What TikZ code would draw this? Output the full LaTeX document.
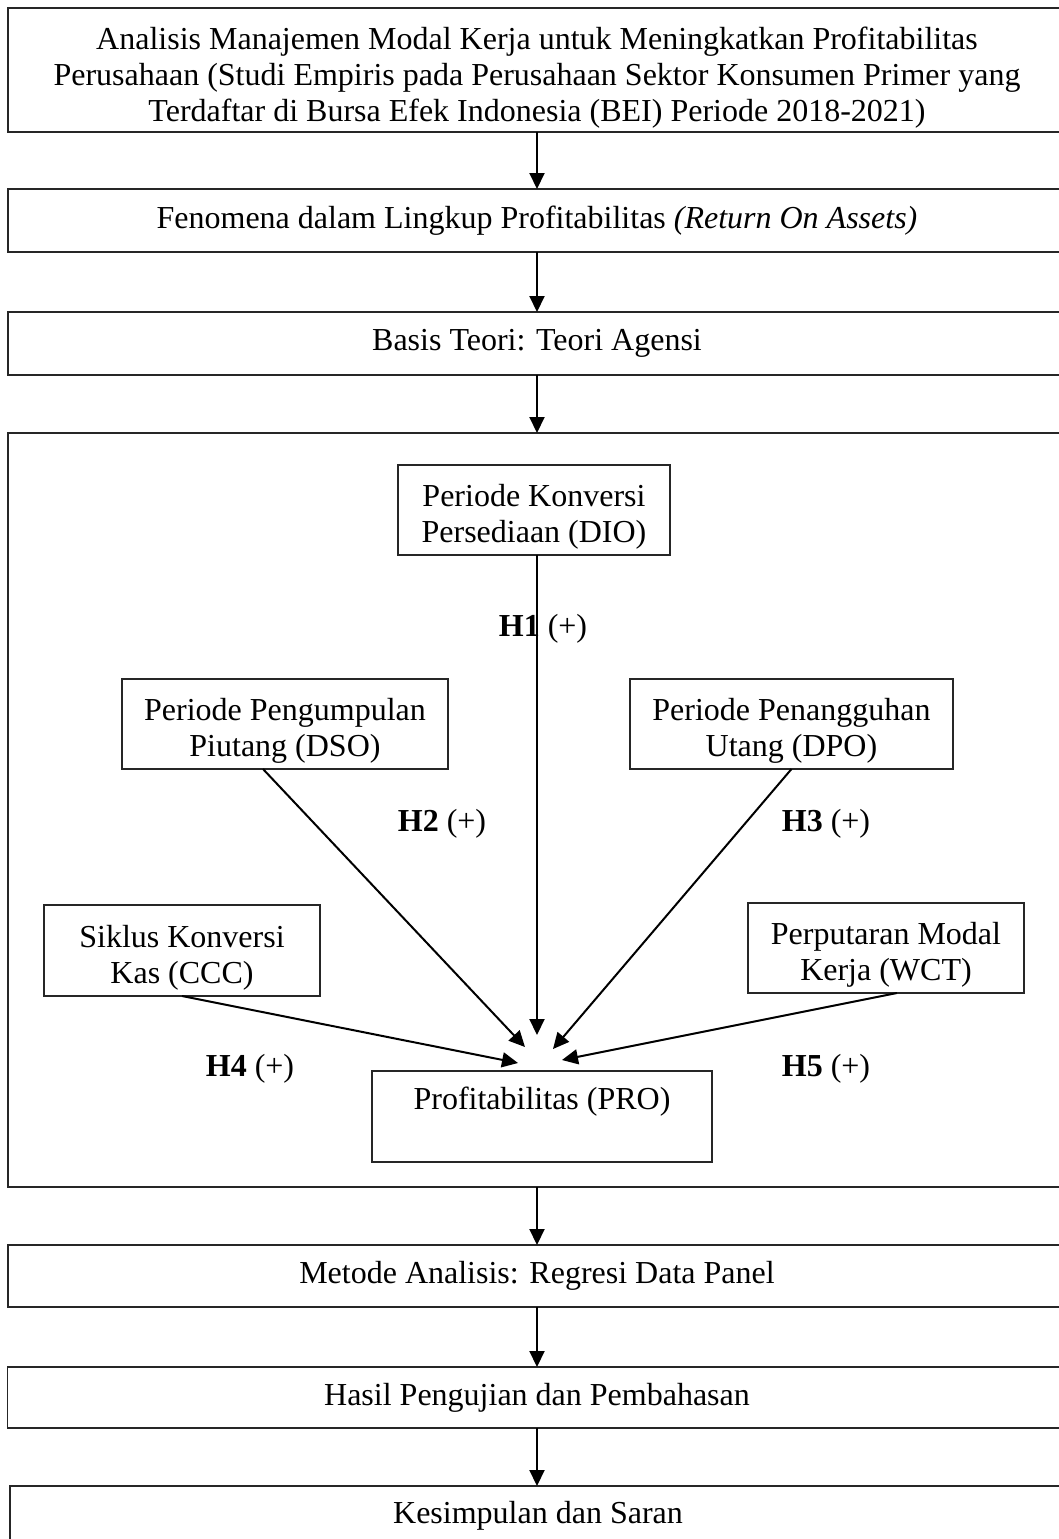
\documentclass[tikz,border=0pt]{standalone}
\usepackage{fontspec}
\setmainfont{Liberation Serif}
\usetikzlibrary{arrows.meta,calc}
\begin{document}
\begin{tikzpicture}[x=0.5pt,y=-0.5pt,
  box/.style={draw=black!85, line width=0.7pt, inner sep=0pt, outer sep=0pt, align=center,
              font=\fontsize{16}{18}\selectfont},
  tx/.style={align=center, inner sep=0pt, font=\fontsize{16}{18}\selectfont},
  frame/.style={draw=black!85, line width=0.9pt, inner sep=0pt, outer sep=0pt},
  arr/.style={-{Triangle[width=7.5pt,length=8pt]}, line width=1pt},
  hlab/.style={font=\fontsize{16}{18}\selectfont, inner sep=0pt}]
\useasboundingbox (0,0) rectangle (1059,1539);
\fill[white] (0,0) rectangle (1059,1539);
\clip (0,0) rectangle (1059,1539);

% main column
\node[box, minimum width=529pt, minimum height=62pt,
  label={[tx, yshift=-4pt]center:{Analisis Manajemen Modal Kerja untuk Meningkatkan Profitabilitas\\
   Perusahaan (Studi Empiris pada Perusahaan Sektor Konsumen Primer yang\\
   Terdaftar di Bursa Efek Indonesia (BEI) Periode 2018-2021)}}] (title) at (537,70) {};
\node[box, minimum width=529pt, minimum height=31.5pt] (feno) at (537,220.5)
  {Fenomena dalam Lingkup Profitabilitas \textit{(Return On Assets)}};
\node[box, minimum width=529pt, minimum height=31.5pt] (teori) at (537,343.5)
  {Basis Teori: Teori Agensi};
\node[frame, minimum width=529pt, minimum height=377pt] (model) at (537,810) {};
\node[box, minimum width=529pt, minimum height=31pt] (metode) at (537,1276)
  {Metode Analisis: Regresi Data Panel};
\node[box, minimum width=529.5pt, minimum height=30.5pt] (hasil) at (537,1397.5)
  {Hasil Pengujian dan Pembahasan};
\node[box, minimum width=528pt, minimum height=30pt] (kesimpulan) at (538,1516)
  {Kesimpulan dan Saran};

\draw[arr] (title.south) -- (feno.north);
\draw[arr] (feno.south) -- (teori.north);
\draw[arr] (teori.south) -- (model.north);
\draw[arr] (model.south) -- (metode.north);
\draw[arr] (metode.south) -- (hasil.north);
\draw[arr] (hasil.south) -- (hasil.south |- kesimpulan.north);

% model boxes
\node[box, minimum width=136pt, minimum height=45pt,
  label={[tx, yshift=-3.5pt]center:{Periode Konversi\\Persediaan (DIO)}}] (dio) at (534,510) {};
\node[box, minimum width=163pt, minimum height=45pt,
  label={[tx, yshift=-3.5pt]center:{Periode Pengumpulan\\Piutang (DSO)}}] (dso) at (285,724) {};
\node[box, minimum width=161.5pt, minimum height=45pt,
  label={[tx, yshift=-3.5pt]center:{Periode Penangguhan\\Utang (DPO)}}] (dpo) at (791.5,724) {};
\node[box, minimum width=138pt, minimum height=45.5pt,
  label={[tx, yshift=-3.5pt]center:{Siklus Konversi\\Kas (CCC)}}] (ccc) at (182,950.5) {};
\node[box, minimum width=138pt, minimum height=45pt,
  label={[tx, yshift=-3.5pt]center:{Perputaran Modal\\Kerja (WCT)}}] (wct) at (886,948) {};
\node[box, minimum width=170pt, minimum height=45.5pt,
  label={[tx, yshift=7.5pt]center:{Profitabilitas (PRO)}}] (pro) at (542,1116.5) {};

\coordinate (t1) at (537,1035);
\coordinate (t2) at (525,1047);
\coordinate (t3) at (553,1049);
\coordinate (t4) at (518,1063);
\coordinate (t5) at (562,1060);

\draw[arr] ($(dio.south)+(3,0)$) -- (t1);
\draw[arr] ($(dso.south)+(-22,0)$) -- (t2);
\draw[arr] (dpo.south) -- (t3);
\draw[arr] (ccc.south) -- (t4);
\draw[arr] ($(wct.south)+(11,0)$) -- (t5);

\node[hlab] (h1) at (543,629) {\textbf{H1} (+)};
\node[hlab] (h2) at (442,824) {\textbf{H2} (+)};
\node[hlab] (h3) at (826,824) {\textbf{H3} (+)};
\node[hlab] (h4) at (250,1069) {\textbf{H4} (+)};
\node[hlab] (h5) at (826,1069) {\textbf{H5} (+)};
\end{tikzpicture}
\end{document}
